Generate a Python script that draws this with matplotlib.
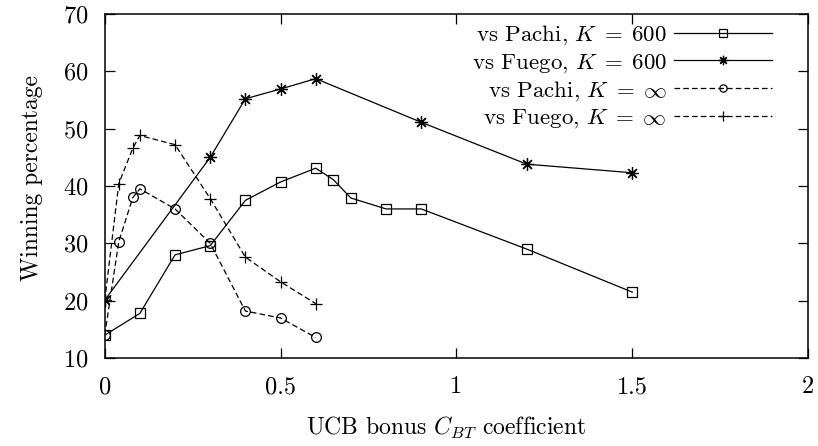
import numpy as np
import matplotlib
matplotlib.use("Agg")
import matplotlib.pyplot as plt

plt.rcParams['font.family'] = 'serif'
plt.rcParams['font.serif'] = ['cmr10', 'DejaVu Serif']
plt.rcParams['mathtext.fontset'] = 'cm'
plt.rcParams['axes.formatter.use_mathtext'] = True

# data
pachi_600_x = [0, 0.1, 0.2, 0.3, 0.4, 0.5, 0.6, 0.65, 0.7, 0.8, 0.9, 1.2, 1.5]
pachi_600_y = [14.0, 17.8, 28.0, 29.6, 37.5, 40.7, 43.1, 41.1, 37.9, 36.0, 36.0, 29.0, 21.5]

fuego_600_x = [0, 0.3, 0.4, 0.5, 0.6, 0.9, 1.2, 1.5]
fuego_600_y = [20.1, 45.0, 55.2, 56.9, 58.7, 51.1, 43.8, 42.3]

pachi_inf_x = [0, 0.04, 0.08, 0.1, 0.2, 0.3, 0.4, 0.5, 0.6]
pachi_inf_y = [14.0, 30.3, 38.0, 39.5, 36.0, 30.0, 18.2, 17.0, 13.6]

fuego_inf_x = [0, 0.04, 0.08, 0.1, 0.2, 0.3, 0.4, 0.5, 0.6]
fuego_inf_y = [20.0, 40.4, 46.6, 48.8, 47.2, 37.8, 27.6, 23.3, 19.5]

labels = [r"vs Pachi, $K\;=\;600$", r"vs Fuego, $K\;=\;600$",
          r"vs Pachi, $K\;=\;\infty$", r"vs Fuego, $K\;=\;\infty$"]

fig = plt.figure(figsize=(8.18, 4.46), dpi=100)
ax = fig.add_axes([0.128, 0.197, 0.86, 0.772])

dash = (0, (4.5, 2.5))
lw = 0.9
ms = 7
ax.plot(pachi_600_x, pachi_600_y, color='k', lw=lw, marker='s', ms=ms,
        mfc='none', mew=lw, label=labels[0])
ax.plot(fuego_600_x, fuego_600_y, color='k', lw=lw, marker=(8, 2, 0), ms=ms + 2,
        mew=lw, label=labels[1])
ax.plot(pachi_inf_x, pachi_inf_y, color='k', lw=lw, ls=dash, marker='o', ms=ms,
        mfc='none', mew=lw, label=labels[2])
ax.plot(fuego_inf_x, fuego_inf_y, color='k', lw=lw, ls=dash, marker='+', ms=ms + 2,
        mew=lw, label=labels[3])

ax.set_xlim(0, 2)
ax.set_ylim(10, 70)
ax.set_xticks([0, 0.5, 1, 1.5, 2])
ax.set_xticklabels(['0', '0.5', '1', '1.5', '2'])
ax.set_yticks(np.arange(10, 71, 10))
ax.tick_params(direction='in', length=7, width=0.9, top=True, right=True,
               labelsize=17.5)
ax.tick_params(axis='x', pad=13)
ax.tick_params(axis='y', pad=12)
for s in ax.spines.values():
    s.set_linewidth(1.1)

ax.set_xlabel(r"UCB bonus $C_{BT}$ coefficient", fontsize=17, labelpad=12, x=0.485)
ax.set_ylabel("Winning percentage", fontsize=17, labelpad=14, y=0.523)

ax.legend(loc='upper right', bbox_to_anchor=(0.949, 0.972), frameon=False,
          markerfirst=False, fontsize=16.5, handlelength=4.3, handletextpad=0.3,
          borderpad=0, borderaxespad=0, labelspacing=0.2, markerscale=0.75)

fig.savefig("out.png", dpi=100)
